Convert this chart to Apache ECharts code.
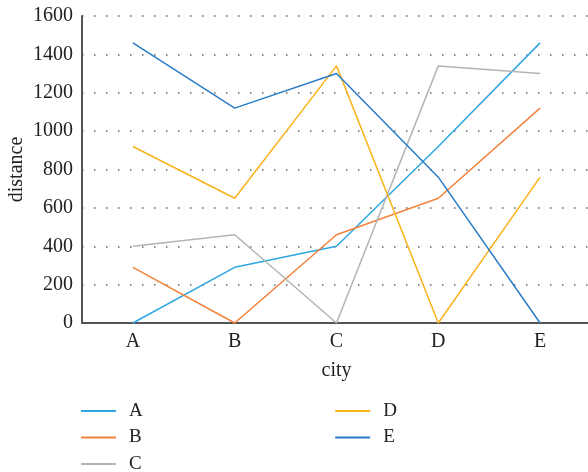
<!DOCTYPE html>
<html><head><meta charset="utf-8">
<script src="https://cdn.jsdelivr.net/npm/echarts@6/dist/echarts.min.js"></script>
<style>html,body{margin:0;padding:0;background:#fff}#c{width:588px;height:472px}</style>
</head><body><div id="c"></div>
<script>
const categories = ['A','B','C','D','E'];
const seriesNames = ['A','B','C','D','E'];
const valuesA = [0, 290, 400, 920, 1460];
const valuesB = [290, 0, 460, 650, 1120];
const valuesC = [400, 460, 0, 1340, 1300];
const valuesD = [920, 650, 1340, 0, 760];
const valuesE = [1460, 1120, 1300, 760, 0];
const yTicks = [0, 200, 400, 600, 800, 1000, 1200, 1400, 1600];

const allValues = [valuesA, valuesB, valuesC, valuesD, valuesE];
const colors = ['#2ea6e0', '#f5823c', '#b4b4b4', '#f9b31a', '#2b7bc6'];
const font = 'Liberation Serif';

const chart = echarts.init(document.getElementById('c'));
chart.setOption({
  animation: false,
  color: colors,
  grid: { left: 82, right: -3, top: 16, bottom: 149, outerBoundsMode: 'none', containLabel: false },
  legend: {
    data: seriesNames, orient: 'vertical', left: 81, top: 401, height: 80, padding: 0,
    icon: 'rect', itemWidth: 35, itemHeight: 2, itemGap: 6.5,
    textStyle: { fontFamily: font, fontSize: 19, lineHeight: 20, color: '#222', padding: [0,186,0,8] }
  },
  xAxis: {
    type: 'category', data: categories, boundaryGap: true,
    name: 'city', nameLocation: 'middle', nameGap: 38,
    nameTextStyle: { fontFamily: font, fontSize: 20, color: '#222' },
    axisLine: { lineStyle: { color: '#555', width: 2 } },
    axisTick: { show: false },
    axisLabel: { fontFamily: font, fontSize: 20, color: '#222', margin: 9 },
    splitLine: { show: false }
  },
  yAxis: {
    type: 'value', min: yTicks[0], max: yTicks[yTicks.length-1], interval: 200,
    name: 'distance', nameLocation: 'middle', nameGap: 65, nameMoveOverlap: false,
    nameTextStyle: { fontFamily: font, fontSize: 20, color: '#222', padding: [0, 0, 0, 0], verticalAlign: 'middle' },
    axisLine: { show: true, lineStyle: { color: '#555', width: 2 } },
    axisTick: { show: false },
    axisLabel: { fontFamily: font, fontSize: 20, color: '#222', margin: 9, formatter: v => String(v) },
    splitLine: { show: true, lineStyle: { color: '#666', type: [1.5, 10.5], width: 1.5 } }
  },
  series: seriesNames.map((n, i) => ({
    name: n, type: 'line', data: allValues[i], symbol: 'none',
    lineStyle: { width: 1.5 }
  }))
});
</script></body></html>
